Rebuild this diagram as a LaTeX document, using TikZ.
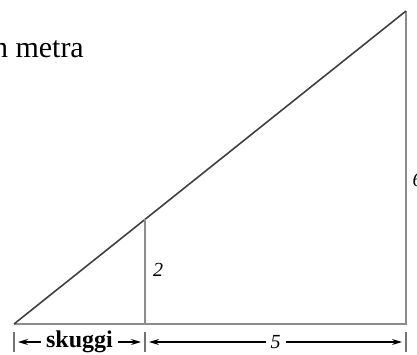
\documentclass[tikz,border=0pt]{standalone}
\usepackage{fontspec}
\setmainfont{Liberation Serif}
\usetikzlibrary{arrows.meta}
\tikzset{
    side/.style = { line width=1.8pt, black!45 },
    slope/.style = { line width=1.6pt, black!75 },
    tick/.style = { line width=1.4pt, black!55 },
    dim/.style = { line width=1.2pt, black, {Stealth[length=10pt,width=6pt]}-{Stealth[length=10pt,width=6pt]}, shorten <=4pt, shorten >=4pt },
    gap/.style = { fill=white, inner sep=5pt }
}

\begin{document}
\begin{tikzpicture}[x=1pt, y=1pt]
    %%% Picture measured in pixels of the drawing, y pointing up.
    \useasboundingbox (0,0) rectangle (417,354);

    %%%
    %%% Triangle
    %%%
    \coordinate (foot)   at (14,30);
    \coordinate (corner) at (406,30);
    \coordinate (top)    at (406,343);
    \coordinate (stick)  at (145,30);
    \coordinate (tip)    at (145,134.6);
    \draw[side] (foot) -- (corner) -- (top);
    \draw[slope] (foot) -- (top);
    % Stick
    \draw[side] (stick) -- (tip);
    \node (two) at (158,84) {\fontsize{20}{24}\selectfont\itshape 2};
    \node (six) at (409,174) [anchor=west] {\fontsize{20}{24}\selectfont\itshape 6};

    %%%
    %%% Measures below
    %%%
    \foreach \name / \x in {left/14, mid/145, right/406}
      {
        \coordinate (\name low) at (\x,2);
        \coordinate (\name high) at (\x,22);
        \draw[tick] (\name low) -- (\name high);
      }
    \coordinate (dleft)  at (14,12);
    \coordinate (dmid)   at (145,12);
    \coordinate (dright) at (406,12);
    \draw[dim] (dleft) -- node[gap] {\fontsize{24}{28}\selectfont\bfseries skuggi} (dmid);
    \draw[dim] (dmid) -- node[gap] {\fontsize{20}{24}\selectfont\itshape 5} (dright);

    % Cut-off title
    \node (title) at (84,296) [anchor=base east, inner sep=0pt] {\fontsize{30}{34}\selectfont n metra};
\end{tikzpicture}
\end{document}
